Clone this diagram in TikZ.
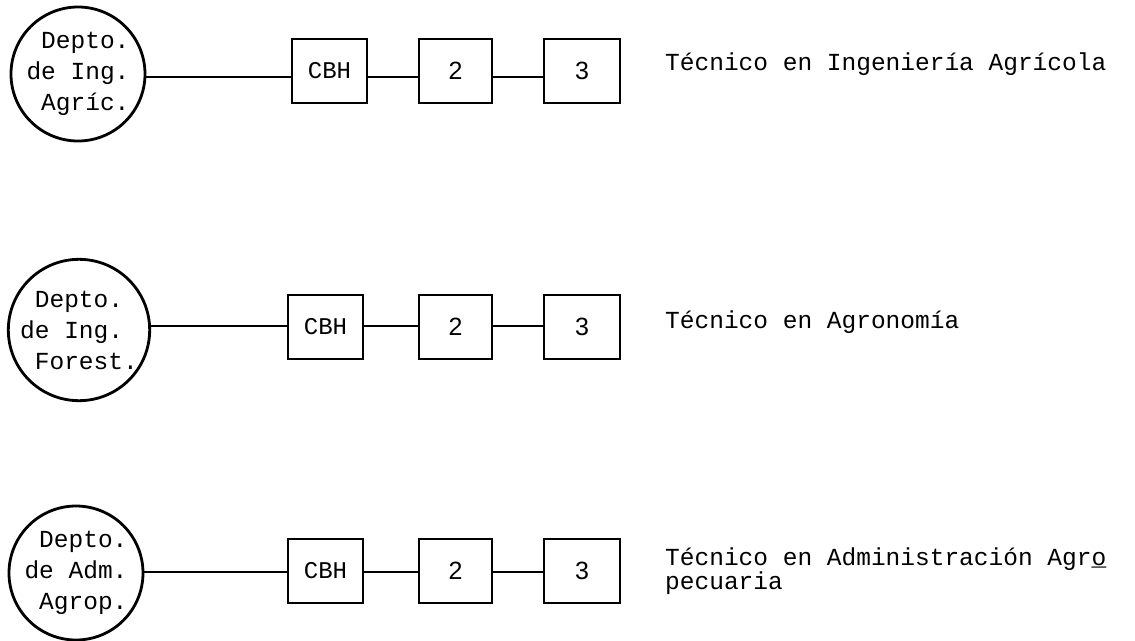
\documentclass[tikz,border=0pt]{standalone}
\usepackage{fontspec}
\setmonofont{Liberation Mono}
\newfontfamily\numfont{Liberation Sans}
\begin{document}
\begin{tikzpicture}[x=1pt,y=-1pt,
  dept/.style={circle, draw, line width=2.8pt, minimum size=134pt, inner sep=0pt,
    font=\ttfamily\fontsize{24.5}{31}\selectfont, align=left},
  blk/.style={rectangle, draw, line width=2.6pt, minimum height=64pt, inner sep=0pt},
  cbh/.style={blk, minimum width=75pt, font=\ttfamily\fontsize{24}{24}\selectfont},
  numbox/.style={blk, font=\numfont\fontsize{25}{25}\selectfont},
  link/.style={line width=2pt},
  lbl/.style={anchor=base west, font=\ttfamily\fontsize{24.5}{22}\selectfont, align=left, inner sep=0pt}]
\useasboundingbox (0,0) rectangle (1135,640);

% Row 1
\node[dept] (d1) at (78,74) {\phantom{D}Depto.\\de Ing.\\\phantom{A}Agríc.};
\node[cbh] (c1) at (329.5,71) {CBH};
\node[numbox, minimum width=73pt] (b1) at (455.5,71) {2};
\node[numbox, minimum width=76pt] (e1) at (582,71) {3};
\node[lbl] (t1) at (665,70) {Técnico en Ingeniería Agrícola};
\draw[link] (d1.east |- 0,77) -- (c1.west |- 0,77);
\draw[link] (c1.east |- 0,77) -- (b1.west |- 0,77);
\draw[link] (b1.east |- 0,77) -- (e1.west |- 0,77);

% Row 2
\node[dept] (d2) at (79,330) {\phantom{D}Depto.\\de Ing.\\\phantom{F}Forest.};
\node[cbh] (c2) at (325.5,327) {CBH};
\node[numbox, minimum width=73pt] (b2) at (455.5,327) {2};
\node[numbox, minimum width=76pt] (e2) at (582,327) {3};
\node[lbl] (t2) at (665,328) {Técnico en Agronomía};
\draw[link] (d2.east |- 0,326) -- (c2.west |- 0,326);
\draw[link] (c2.east |- 0,326) -- (b2.west |- 0,326);
\draw[link] (b2.east |- 0,326) -- (e2.west |- 0,326);

% Row 3
\node[dept] (d3) at (76,573) {\phantom{D}Depto.\\de Adm.\\\phantom{A}Agrop.};
\node[cbh] (c3) at (325.5,571) {CBH};
\node[numbox, minimum width=73pt] (b3) at (455.5,571) {2};
\node[numbox, minimum width=76pt] (e3) at (582,571) {3};
\node[lbl] (t3) at (665,589) {Técnico en Administración Agr\rlap{o}\_\\pecuaria};
\draw[link] (d3.east |- 0,572) -- (c3.west |- 0,572);
\draw[link] (c3.east |- 0,572) -- (b3.west |- 0,572);
\draw[link] (b3.east |- 0,572) -- (e3.west |- 0,572);
\end{tikzpicture}
\end{document}
